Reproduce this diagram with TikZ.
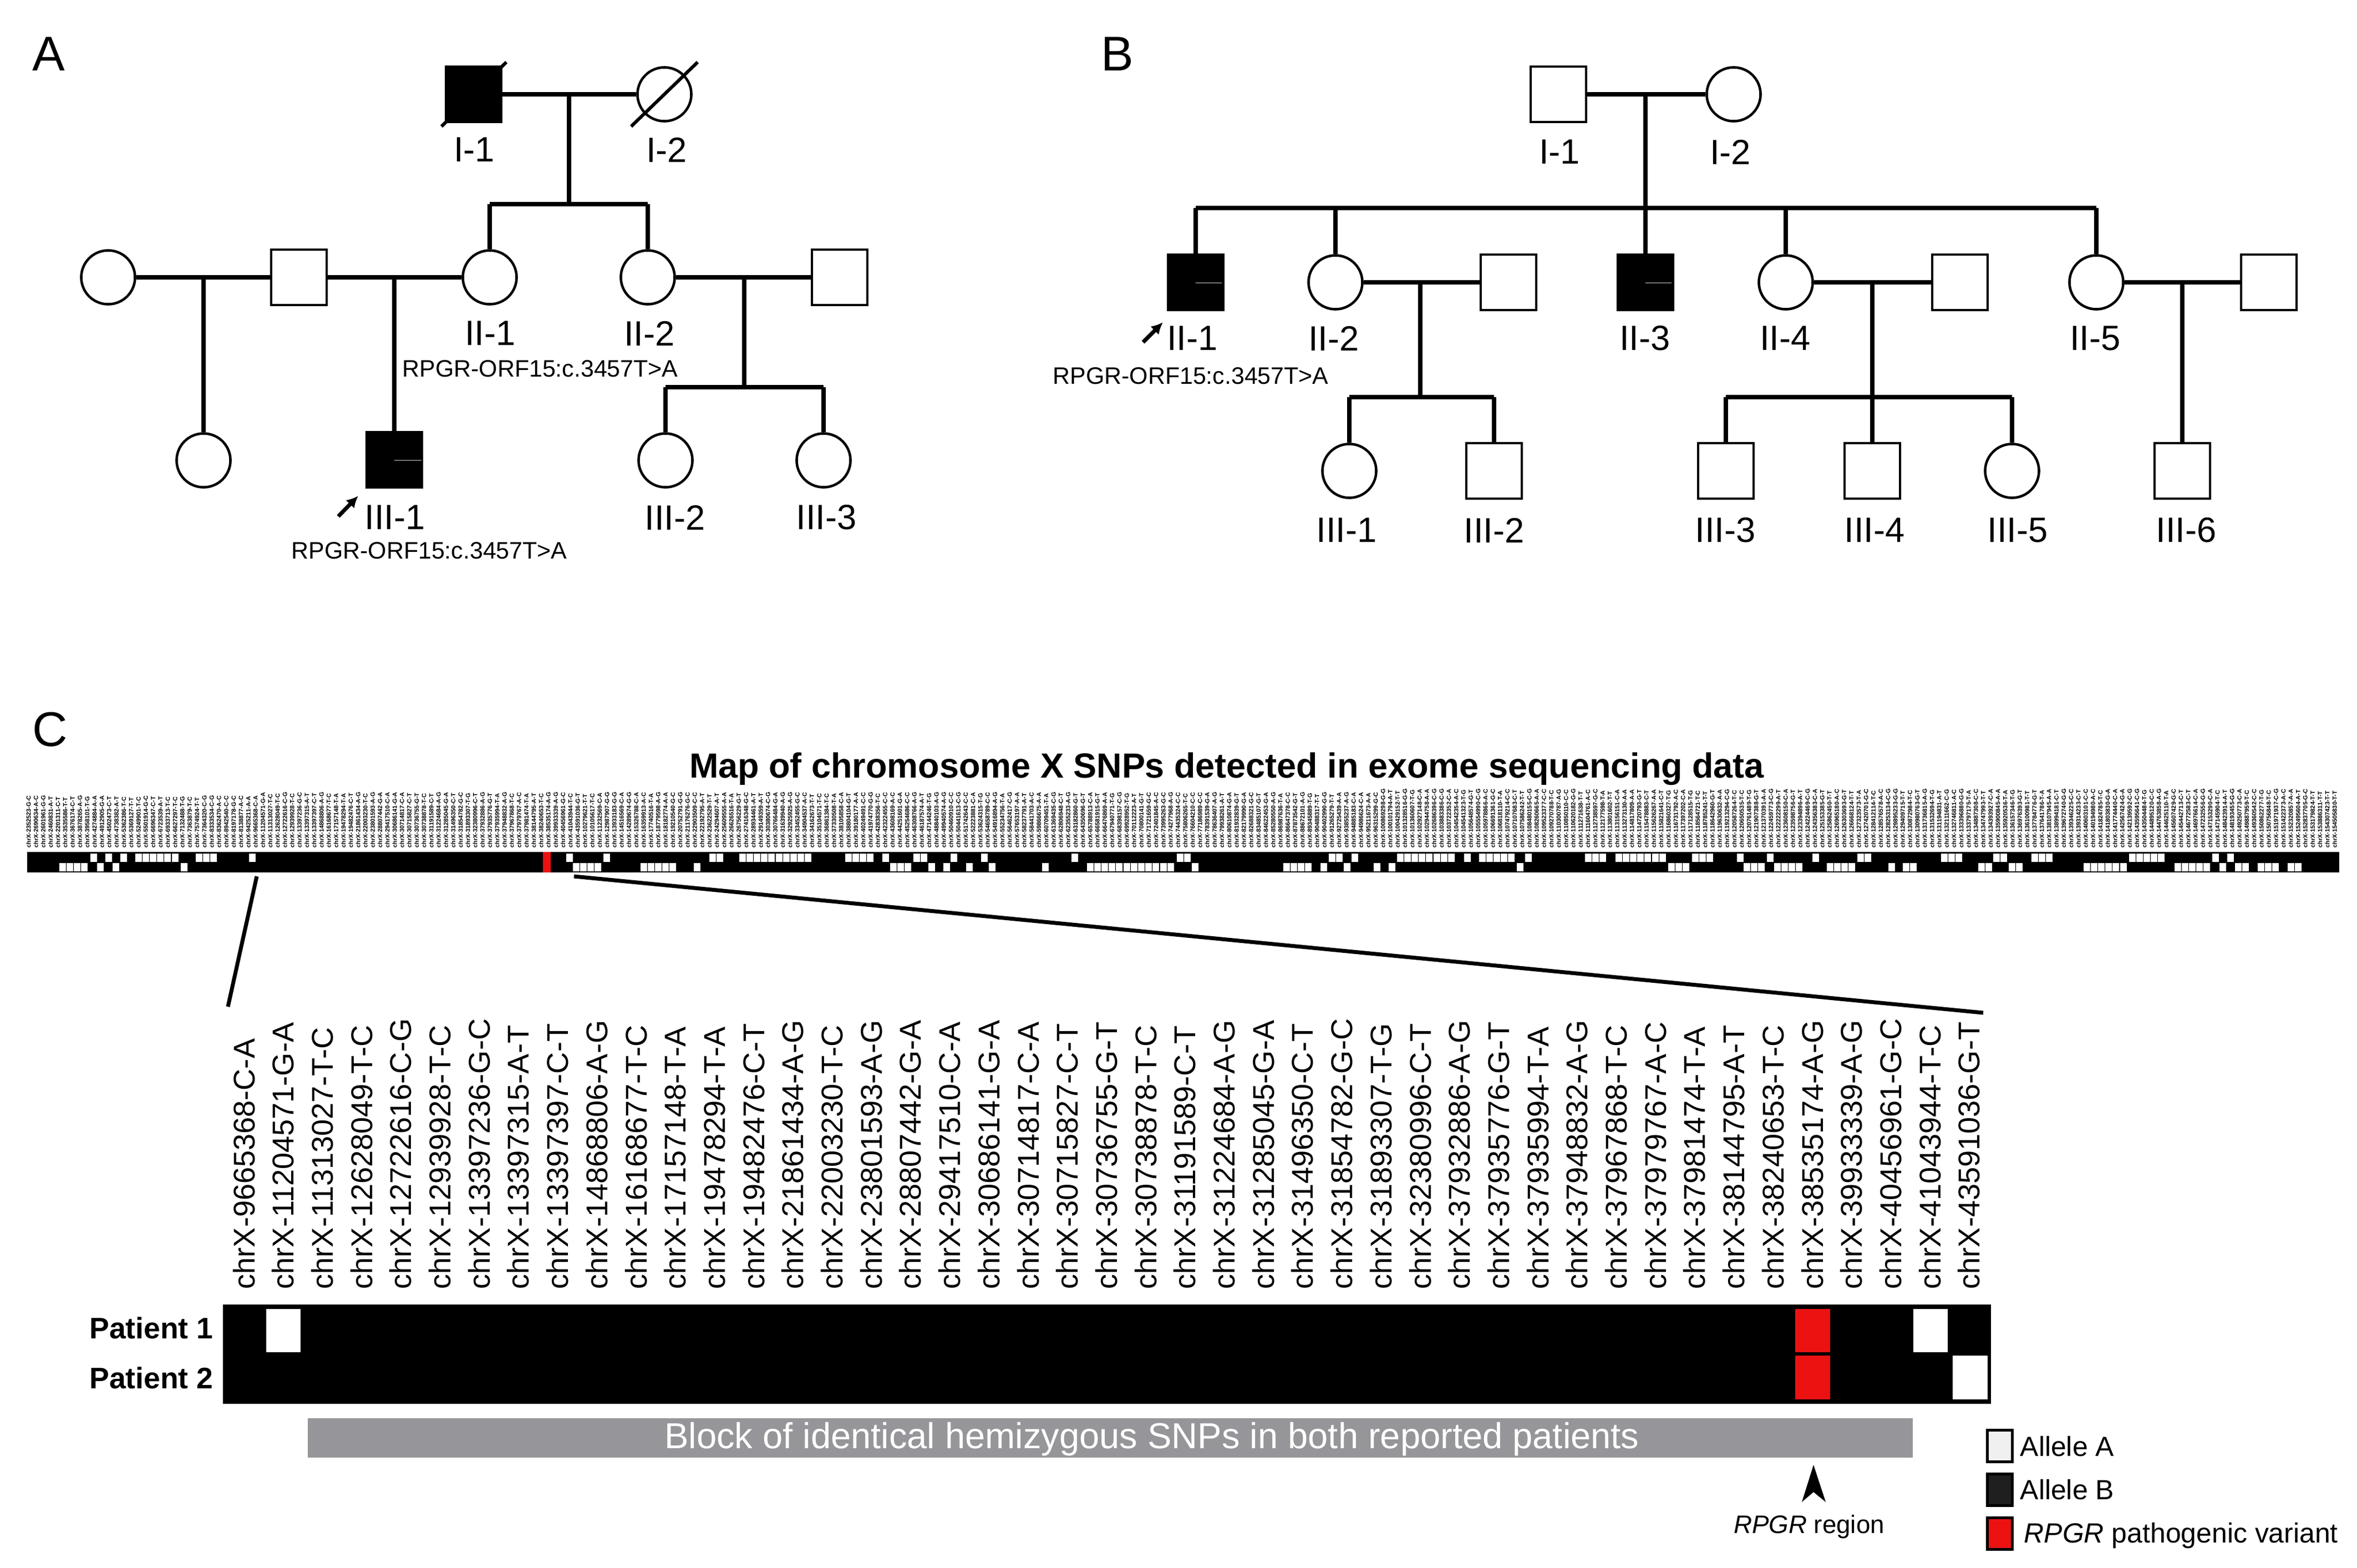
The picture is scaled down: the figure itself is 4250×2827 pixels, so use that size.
\documentclass[tikz,border=0pt]{standalone}
\usepackage{fontspec}
\setmainfont{Liberation Sans}
\usetikzlibrary{arrows.meta,calc}
\definecolor{snpred}{RGB}{236,18,18}
\definecolor{blockgray}{RGB}{150,150,154}
\def\mysnps{chrX-9665368-C-A,chrX-11204571-G-A,chrX-11313027-T-C,chrX-12628049-T-C,chrX-12722616-C-G,chrX-12939928-T-C,chrX-13397236-G-C,chrX-13397315-A-T,chrX-13397397-C-T,chrX-14868806-A-G,chrX-16168677-T-C,chrX-17157148-T-A,chrX-19478294-T-A,chrX-19482476-C-T,chrX-21861434-A-G,chrX-22003230-T-C,chrX-23801593-A-G,chrX-28807442-G-A,chrX-29417510-C-A,chrX-30686141-G-A,chrX-30714817-C-A,chrX-30715827-C-T,chrX-30736755-G-T,chrX-30738878-T-C,chrX-31191589-C-T,chrX-31224684-A-G,chrX-31285045-G-A,chrX-31496350-C-T,chrX-31854782-G-C,chrX-31893307-T-G,chrX-32380996-C-T,chrX-37932886-A-G,chrX-37935776-G-T,chrX-37935994-T-A,chrX-37948832-A-G,chrX-37967868-T-C,chrX-37979767-A-C,chrX-37981474-T-A,chrX-38144795-A-T,chrX-38240653-T-C,chrX-38535174-A-G,chrX-39933339-A-G,chrX-40456961-G-C,chrX-41043944-T-C,chrX-43591036-G-T}
\begin{document}
\begin{tikzpicture}[x=0.01cm,y=-0.01cm,
  male/.style={draw,line width=1.3pt,rectangle,minimum width=1cm,minimum height=1cm,inner sep=0pt,fill=white},
  female/.style={draw,line width=1.3pt,circle,minimum size=0.97cm,inner sep=0pt,fill=white},
  aff/.style={fill=black},
  rel/.style={line width=2.1pt},
  idlab/.style={inner sep=0pt,font=\fontsize{18}{20}\selectfont},
  mutlab/.style={inner sep=0pt,font=\fontsize{12.2}{14}\selectfont},
  panel/.style={inner sep=0pt,font=\fontsize{25}{28}\selectfont},
  slash/.style={line width=1.7pt},
  proband/.style={line width=2pt,-{Latex[length=6pt,width=6pt]}},
  innerline/.style={line width=0.8pt,black!55},
  snplab/.style={rotate=90,anchor=base west,inner sep=0pt,font=\fontsize{15.4}{17}\selectfont},
  tinylab/.style={rotate=90,anchor=base west,inner sep=0pt,font=\bfseries\fontsize{3.1}{3.5}\selectfont},
  zoomline/.style={line width=2pt},
  legtext/.style={anchor=base west,inner sep=0pt,font=\fontsize{14.2}{16}\selectfont},
  legbox/.style={draw=black,line width=1.4pt,minimum width=0.45cm,minimum height=0.57cm,inner sep=0pt},
]
\fill[white] (0,0) rectangle (4250,2827);
\useasboundingbox (0,0) rectangle (4250,2827);

% ================= Panel A =================
\node[panel] (pA) at (88,97) {A};
\node[male,aff] (A11) at (854,170) {};
\node[female] (A12) at (1198,170) {};
\draw[slash] ($(A11)+(-58,58)$) -- ($(A11)+(59,-58)$);
\draw[slash] ($(A12)+(-60,58)$) -- ($(A12)+(60,-58)$);
\node[idlab] (A11l) at (855,270) {I-1};
\node[idlab] (A12l) at (1202,270) {I-2};
\coordinate (Am1) at (1026,170);
\coordinate (As1) at (1026,368);
\coordinate (As1L) at (883,368);
\coordinate (As1R) at (1168,368);
\draw[rel] (A11) -- (A12);
\draw[rel] (Am1) -- (As1);
\draw[rel] (As1L) -- (As1R);

\node[female] (AL) at (195,500) {};
\node[male] (AS1) at (539,500) {};
\node[female] (A21) at (883,500) {};
\node[female] (A22) at (1168,500) {};
\node[male] (AS2) at (1514,500) {};
\draw[rel] (As1L) -- (A21);
\draw[rel] (As1R) -- (A22);
\draw[rel] (AL) -- (AS1);
\draw[rel] (AS1) -- (A21);
\draw[rel] (A22) -- (AS2);
\node[idlab] (A21l) at (884,601) {II-1};
\node[idlab] (A22l) at (1171,601) {II-2};
\node[mutlab] (A21m) at (974,665) {RPGR-ORF15:c.3457T>A};

\coordinate (Am2) at (367,500);
\node[female] (AC1) at (367,830) {};
\draw[rel] (Am2) -- (AC1);
\coordinate (Am3) at (711,500);
\node[male,aff] (A31) at (711,829) {};
\draw[innerline] (711,830) -- (760,830);
\draw[rel] (Am3) -- (A31);
\coordinate (Am4) at (1342,500);
\coordinate (As4) at (1342,698);
\coordinate (As4L) at (1200,698);
\coordinate (As4R) at (1485,698);
\node[female] (A32) at (1200,830) {};
\node[female] (A33) at (1485,830) {};
\draw[rel] (Am4) -- (As4);
\draw[rel] (As4L) -- (As4R);
\draw[rel] (As4L) -- (A32);
\draw[rel] (As4R) -- (A33);
\node[idlab] (A31l) at (712,933) {III-1};
\node[idlab] (A32l) at (1217,933) {III-2};
\node[idlab] (A33l) at (1490,933) {III-3};
\node[mutlab] (A31m) at (774,993) {RPGR-ORF15:c.3457T>A};
\coordinate (Aar1) at (610,931);
\coordinate (Aar2) at (646,894);
\draw[proband] (Aar1) -- (Aar2);

% ================= Panel B =================
\node[panel] (pB) at (2015,97) {B};
\node[male] (B11) at (2810,170) {};
\node[female] (B12) at (3126,170) {};
\node[idlab] (B11l) at (2812,274) {I-1};
\node[idlab] (B12l) at (3120,274) {I-2};
\draw[rel] (B11) -- (B12);
\coordinate (Bm1) at (2967,170);
\coordinate (Bs1) at (2967,375);
\coordinate (Bs1L) at (2156,375);
\coordinate (Bs1R) at (3780,375);
\draw[rel] (Bm1) -- (Bs1);
\draw[rel] (Bs1L) -- (Bs1R);

\node[male,aff] (B21) at (2156,509) {};
\draw[innerline] (2156,510) -- (2203,510);
\node[female] (B22) at (2408,509) {};
\node[male] (B22s) at (2720,509) {};
\node[male,aff] (B23) at (2967,509) {};
\draw[innerline] (2967,510) -- (3014,510);
\node[female] (B24) at (3220,509) {};
\node[male] (B24s) at (3534,509) {};
\node[female] (B25) at (3780,509) {};
\node[male] (B25s) at (4091,509) {};
\coordinate (Bd2) at (2408,375);
\coordinate (Bd4) at (3220,375);
\draw[rel] (Bs1L) -- (B21);
\draw[rel] (Bd2) -- (B22);
\draw[rel] (Bs1) -- (B23);
\draw[rel] (Bd4) -- (B24);
\draw[rel] (Bs1R) -- (B25);
\draw[rel] (B22) -- (B22s);
\draw[rel] (B24) -- (B24s);
\draw[rel] (B25) -- (B25s);
\node[idlab] (B21l) at (2150,610) {II-1};
\node[idlab] (B22l) at (2405,610) {II-2};
\node[idlab] (B23l) at (2966,610) {II-3};
\node[idlab] (B24l) at (3219,610) {II-4};
\node[idlab] (B25l) at (3778,610) {II-5};
\node[mutlab] (B21m) at (2147,678) {RPGR-ORF15:c.3457T>A};
\coordinate (Bar1) at (2061,617);
\coordinate (Bar2) at (2097,581);
\draw[proband] (Bar1) -- (Bar2);

\coordinate (Bm2) at (2561,509);
\coordinate (Bs2) at (2561,716);
\coordinate (Bs2L) at (2433,716);
\coordinate (Bs2R) at (2694,716);
\node[female] (B31) at (2433,849) {};
\node[male] (B32) at (2694,849) {};
\draw[rel] (Bm2) -- (Bs2);
\draw[rel] (Bs2L) -- (Bs2R);
\draw[rel] (Bs2L) -- (B31);
\draw[rel] (Bs2R) -- (B32);

\coordinate (Bm4) at (3376,509);
\coordinate (Bs4) at (3376,716);
\coordinate (Bs4L) at (3112,716);
\coordinate (Bs4R) at (3628,716);
\node[male] (B33) at (3112,849) {};
\node[male] (B34) at (3376,849) {};
\node[female] (B35) at (3628,849) {};
\draw[rel] (Bm4) -- (Bs4);
\draw[rel] (Bs4L) -- (Bs4R);
\draw[rel] (Bs4L) -- (B33);
\draw[rel] (Bs4) -- (B34);
\draw[rel] (Bs4R) -- (B35);

\coordinate (Bm5) at (3935,509);
\node[male] (B36) at (3935,849) {};
\draw[rel] (Bm5) -- (B36);

\node[idlab] (B31l) at (2428,956) {III-1};
\node[idlab] (B32l) at (2694,956) {III-2};
\node[idlab] (B33l) at (3111,956) {III-3};
\node[idlab] (B34l) at (3380,956) {III-4};
\node[idlab] (B35l) at (3638,956) {III-5};
\node[idlab] (B36l) at (3942,956) {III-6};

% ================= Panel C =================
\node[panel] (pC) at (90,1315) {C};
\node[anchor=base,inner sep=0pt,font=\bfseries\fontsize{17.9}{20}\selectfont] (title) at (2212,1402) {Map of chromosome X SNPs detected in exome sequencing data};

% tiny SNP labels of the overview
\pgfmathsetseed{12}
\foreach \k in {0,...,30}{
  \pgfmathsetmacro\xx{45+6.6+\k*13.2+3.9}
  \pgfmathtruncatemacro\mil{2+\k*0.24}
  \pgfmathtruncatemacro\ra{random(100,999)}
  \pgfmathtruncatemacro\rb{random(100,999)}
  \pgfmathtruncatemacro\ia{random(1,4)}
  \pgfmathtruncatemacro\ib{random(1,4)}
  \node[tinylab] at (\xx,1529) {chrX-\mil\ra\rb-\ifcase\ia\or A\or C\or G\or T\fi-\ifcase\ib\or A\or C\or G\or T\fi};
}
\foreach \lab [count=\i from 31] in \mysnps {
  \pgfmathsetmacro\xx{45+6.6+\i*13.2+3.9}
  \node[tinylab] at (\xx,1529) {\lab};
}
\foreach \k in {76,...,315}{
  \pgfmathsetmacro\xx{45+6.6+\k*13.2+3.9}
  \pgfmathtruncatemacro\mil{\k<185 ? 10+(\k-76)*0.8 : 100+(\k-185)*0.42}
  \pgfmathtruncatemacro\ra{random(100,999)}
  \pgfmathtruncatemacro\rb{random(100,999)}
  \pgfmathtruncatemacro\ia{random(1,4)}
  \pgfmathtruncatemacro\ib{random(1,4)}
  \node[tinylab] at (\xx,1529) {chrX-\mil\ra\rb-\ifcase\ia\or A\or C\or G\or T\fi-\ifcase\ib\or A\or C\or G\or T\fi};
}

% overview bar
\fill[black] (49,1536) rectangle (4218,1573);
\foreach \s/\n in {162/1,189/1,216/1,243/6,352/3,448/1,1020/1,1087/1,1278/2,1332/10,1523/4,1590/1,1646/2,1713/1,1768/1,1931/1,2121/2,2395/2,2436/1,2518/8,2639/1,2666/5,2749/1,2857/3,2912/7,3050/3,3131/1,3185/1,3267/1,3348/2,3499/3,3593/2,3662/3,3838/5,3988/1,4015/1}{
  \foreach \j in {1,...,\n}{
    \fill[white] (\s+\j*13.2-13.2+0.6,1539) rectangle ++(12,15);
  }
}
\foreach \s/\n in {106/4,174/1,202/1,325/1,1032/4,1154/5,1250/1,1604/3,1673/1,1700/1,1741/1,1782/1,1878/1,1959/12,2148/1,2313/4,2380/1,2422/1,2476/1,2503/1,2734/1,3007/3,3143/3,3198/4,3293/4,3404/1,3430/2,3566/2,3621/2,3756/6,3920/5,4001/1,4029/2,4070/3,4124/2}{
  \foreach \j in {1,...,\n}{
    \fill[white] (\s+\j*13.2-13.2+0.6,1556) rectangle ++(12,15);
  }
}
\fill[snpred] (979,1536) rectangle (993,1573);

% zoom lines
\coordinate (zl1) at (463,1580);
\coordinate (zl2) at (411,1815);
\coordinate (zr1) at (1035,1580);
\coordinate (zr2) at (3576,1826);
\draw[zoomline] (zl1) -- (zl2);
\draw[zoomline] (zr1) -- (zr2);

% SNP labels of the detail table
\foreach \lab [count=\i] in \mysnps {
  \pgfmathsetmacro\xx{440+(\i-1)*70.7+19}
  \node[snplab] at (\xx,2325) {\lab};
}

% detail table
\fill[black] (402,2352) rectangle (3590,2531);
\fill[white] (480,2360) rectangle (542,2438);
\fill[snpred] (3237,2360) rectangle (3300,2438);
\fill[snpred] (3237,2444) rectangle (3300,2523);
\fill[white] (3450,2360) rectangle (3512,2438);
\fill[white] (3521,2444) rectangle (3584,2523);
\node[anchor=east,inner sep=0pt,font=\bfseries\fontsize{15.2}{17}\selectfont] (p1) at (385,2394) {Patient 1};
\node[anchor=east,inner sep=0pt,font=\bfseries\fontsize{15.2}{17}\selectfont] (p2) at (385,2484) {Patient 2};

% block
\fill[blockgray] (555,2557) rectangle (3449,2628);
\node[anchor=base,inner sep=0pt,text=white,font=\fontsize{18.5}{20}\selectfont] (blk) at (2077,2611) {Block of identical hemizygous SNPs in both reported patients};

% RPGR region marker
\fill[black] (3270,2641) -- (3292,2708) -- (3270,2690) -- (3249,2708) -- cycle;
\node[anchor=base,inner sep=0pt,font=\fontsize{13}{15}\selectfont] (rr) at (3262,2764) {\textit{RPGR} region};

% legend
\node[legbox,fill=black!6] (lgA) at (3606,2607) {};
\node[legbox,fill=black!88] (lgB) at (3606,2686) {};
\node[legbox,fill=snpred] (lgR) at (3606,2765) {};
\node[legtext] (lgAt) at (3642,2625) {Allele A};
\node[legtext] (lgBt) at (3642,2703) {Allele B};
\node[legtext] (lgRt) at (3649,2781) {\textit{RPGR} pathogenic variant};
\end{tikzpicture}
\end{document}
